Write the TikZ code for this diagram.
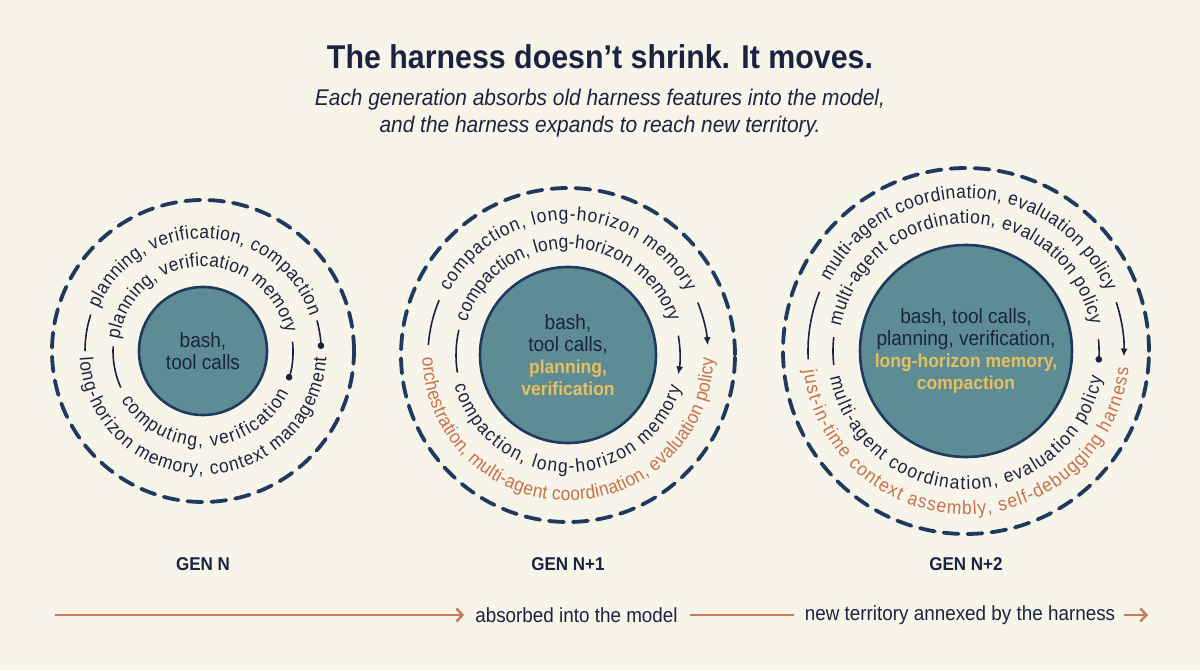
\documentclass[tikz,border=0pt]{standalone}
\usepackage{fontspec}
\setmainfont[FakeStretch=0.92]{Liberation Sans}
\usetikzlibrary{decorations.text,calc,arrows.meta}
\definecolor{bgc}{HTML}{F7F4EA}
\definecolor{ink}{HTML}{1B2340}
\definecolor{navy}{HTML}{1F3A5E}
\definecolor{tealfill}{HTML}{5E8C95}
\definecolor{orng}{HTML}{C8714B}
\definecolor{gold}{HTML}{E6C05E}
\definecolor{arrowc}{HTML}{C97A58}
\newcommand\rf{\fontsize{19}{21}\selectfont\color{ink}}
\newcommand\of{\fontsize{19}{21}\selectfont\color{orng}}
\newcommand\gb[1]{{\fontsize{19}{22}\selectfont\bfseries\color{gold}#1}}
% center, radius, start angle, end angle, text
\newcommand{\arctext}[5]{%
  \path[decorate,decoration={text along path,text align=fit to path,text={#5}}]
    ($(#1)+(#3:#2pt)$) arc[start angle=#3,end angle=#4,radius=#2pt];}
\begin{document}
\begin{tikzpicture}[x=1pt,y=1pt,
  dashring/.style={draw=navy,line width=3.8pt,dash pattern=on 15pt off 9pt,line cap=round},
  thinring/.style={draw=ink,line width=1.6pt},
  core/.style={circle,fill=tealfill,draw=navy,line width=2.6pt,inner sep=0pt,align=center,text=ink,font=\fontsize{20.7}{22}\selectfont},
  gen/.style={font=\fontsize{18.5}{20}\selectfont\bfseries,text=ink},
  flowtxt/.style={font=\fontsize{20.5}{22}\selectfont,text=ink,inner sep=0pt},
  flow/.style={draw=arrowc,line width=2.4pt},
  dottip/.style={-{Circle[length=6.5pt]}},
  arrtip/.style={-{Latex[length=8pt,width=7pt]}}]
\fill[bgc] (0,0) rectangle (1200,670);
\useasboundingbox (0,0) rectangle (1200,670);

% title
\node[text=ink,font=\fontsize{33}{38}\selectfont\bfseries] (title) at (600,613) {The harness doesn’t shrink. It moves.};
\node[text=ink,align=center,font=\fontsize{22.7}{27}\selectfont\itshape] (subtitle) at (600,556.5)
  {Each generation absorbs old harness features into the model,\\and the harness expands to reach new territory.};

% centres
\coordinate (c1) at (203,319);
\coordinate (c2) at (568,315);
\coordinate (c3) at (966,319);

% ===== GEN N =====
\draw[dashring] (c1) circle[radius=151pt];
\node[core,minimum size=128pt] (k1) at (c1) {bash,\\tool calls};
\arctext{c1}{112.5}{158}{18}{|\rf|planning, verification, compaction}
\arctext{c1}{123.5}{183}{357}{|\rf|long-horizon memory, context management}
\arctext{c1}{84.5}{172}{12}{|\rf|planning, verification memory}
\arctext{c1}{95.5}{211}{334}{|\rf|computing, verification}
\draw[thinring] ($(c1)+(162:118pt)$) arc[start angle=162,end angle=180,radius=118pt];
\draw[thinring,dottip] ($(c1)+(15:118pt)$) arc[start angle=15,end angle=1,radius=118pt];
\draw[thinring] ($(c1)+(177:90pt)$) arc[start angle=177,end angle=204,radius=90pt];
\draw[thinring,dottip] ($(c1)+(6:90pt)$) arc[start angle=6,end angle=-19,radius=90pt];

% ===== GEN N+1 =====
\draw[dashring] (c2) circle[radius=167pt];
\node[core,minimum size=176pt] (k2) at (c2) {bash,\\tool calls,\\\gb{planning,}\\\gb{verification}};
\arctext{c2}{134.5}{152}{28}{|\rf|compaction, long-horizon memory}
\arctext{c2}{145.5}{181}{359}{|\of|orchestration, multi-agent coordination, evaluation policy}
\arctext{c2}{106.5}{162}{18}{|\rf|compaction, long-horizon memory}
\arctext{c2}{117.5}{195}{344}{|\rf|compaction, long-horizon memory}
\draw[thinring] ($(c2)+(157:140pt)$) arc[start angle=157,end angle=176,radius=140pt];
\draw[thinring,arrtip] ($(c2)+(22:140pt)$) arc[start angle=22,end angle=4,radius=140pt];
\draw[thinring] ($(c2)+(167:112pt)$) arc[start angle=167,end angle=189,radius=112pt];
\draw[thinring,arrtip] ($(c2)+(10:112pt)$) arc[start angle=10,end angle=-10,radius=112pt];

% ===== GEN N+2 =====
\draw[dashring] (c3) circle[radius=183pt];
\node[core,minimum size=212pt] (k3) at (c3) {bash, tool calls,\\planning, verification,\\\gb{long-horizon memory,}\\\gb{compaction}};
\arctext{c3}{152.5}{153}{23}{|\rf|multi-agent coordination, evaluation policy}
\arctext{c3}{163.5}{187}{354}{|\of|just-in-time context assembly, self-debugging harness}
\arctext{c3}{127.5}{169}{12}{|\rf|multi-agent coordination, evaluation policy}
\arctext{c3}{138.5}{191}{349}{|\rf|multi-agent coordination, evaluation policy}
\draw[thinring] ($(c3)+(158:158pt)$) arc[start angle=158,end angle=183,radius=158pt];
\draw[thinring,arrtip] ($(c3)+(18:158pt)$) arc[start angle=18,end angle=-2,radius=158pt];
\draw[thinring] ($(c3)+(174:133pt)$) arc[start angle=174,end angle=186,radius=133pt];
\draw[thinring,dottip] ($(c3)+(5:133pt)$) arc[start angle=5,end angle=-5,radius=133pt];

% labels
\node[gen] (g1) at (203,106) {GEN N};
\node[gen] (g2) at (568,106) {GEN N+1};
\node[gen] (g3) at (966,106) {GEN N+2};

% bottom flow
\coordinate (fstart) at (55,55);
\coordinate (fend) at (1148,55);
\node[flowtxt] (absorbed) at (576.5,55) {absorbed into the model};
\node[flowtxt] (newterr) at (960,55) {new territory annexed by the harness};
\draw[flow,-{Straight Barb[length=6pt,width=13pt]}] (fstart) -- ([xshift=-11pt]absorbed.west);
\draw[flow] ([xshift=12pt]absorbed.east) -- ([xshift=-11pt]newterr.west);
\draw[flow,-{Straight Barb[length=6pt,width=13pt]}] ([xshift=9pt]newterr.east) -- (fend);
\end{tikzpicture}
\end{document}
